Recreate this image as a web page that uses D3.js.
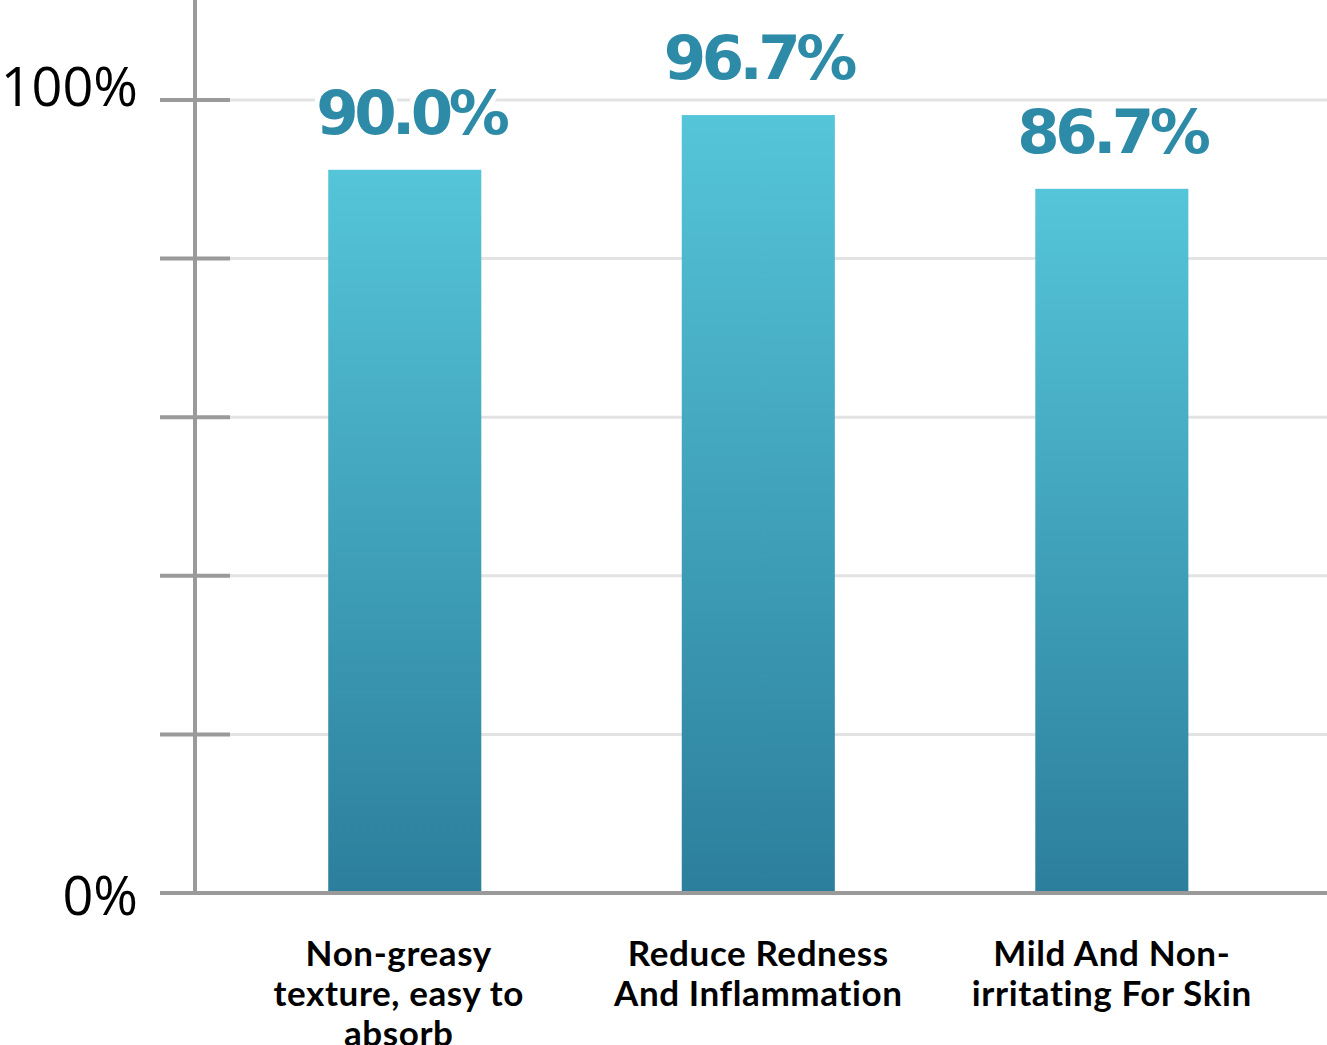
<!DOCTYPE html>
<html><head><meta charset="utf-8">
<script src="https://cdn.jsdelivr.net/npm/d3@7"></script>
<style>html,body{margin:0;padding:0;background:#fff;}svg{display:block;}</style>
</head><body>
<svg id="chart" width="1327" height="1045"></svg>
<script>
const categories = [
  ["Non-greasy", "texture, easy to", "absorb"],
  ["Reduce Redness", "And Inflammation"],
  ["Mild And Non-", "irritating For Skin"]
];
const barValues = [91.2, 98.1, 88.8];
const valueLabels = ["90.0%", "96.7%", "86.7%"];
const tickValues = [0, 20, 40, 60, 80, 100];
const tickLabels = {0: "0%", 100: "100%"};

const svg = d3.select("#chart");
const y = d3.scaleLinear().domain([0, 100]).range([893, 100]);
const keys = categories.map((c, i) => i);
const x = d3.scaleBand().domain(keys).range([230, 1327])
  .paddingInner(0.567).paddingOuter(0.335).align(0.4147);

const defs = svg.append("defs");
const grad = defs.append("linearGradient").attr("id", "barGrad")
  .attr("x1", 0).attr("y1", 0).attr("x2", 0).attr("y2", 1);
grad.append("stop").attr("offset", "0%").attr("stop-color", "#55c5d9");
grad.append("stop").attr("offset", "100%").attr("stop-color", "#2c7f9c");

// gridlines
svg.append("g").selectAll("line").data(tickValues.filter(v => v > 0)).join("line")
  .attr("x1", 230).attr("x2", 1327)
  .attr("y1", d => y(d)).attr("y2", d => y(d))
  .attr("stroke", "#e3e3e3").attr("stroke-width", 3);

// bars
svg.append("g").selectAll("rect").data(barValues).join("rect")
  .attr("x", (d, i) => x(i)).attr("width", x.bandwidth())
  .attr("y", d => y(d)).attr("height", d => y(0) - y(d))
  .attr("fill", "url(#barGrad)");

// y axis line
svg.append("line").attr("x1", 195).attr("x2", 195).attr("y1", 0).attr("y2", y(0))
  .attr("stroke", "#9a9a9a").attr("stroke-width", 4);
// x axis line
svg.append("line").attr("x1", 160).attr("x2", 1327).attr("y1", y(0)).attr("y2", y(0))
  .attr("stroke", "#9a9a9a").attr("stroke-width", 4);
// ticks
svg.append("g").selectAll("line").data(tickValues).join("line")
  .attr("x1", 160).attr("x2", 230)
  .attr("y1", d => y(d)).attr("y2", d => y(d))
  .attr("stroke", "#9a9a9a").attr("stroke-width", 4);

// tick labels
svg.append("g").selectAll("text").data(tickValues.filter(v => tickLabels[v])).join("text")
  .attr("x", 138).attr("y", d => y(d) + (d === 100 ? 6 : 22))
  .attr("text-anchor", "end")
  .attr("font-family", "'Open Sans', sans-serif").attr("font-size", 54)
  .attr("fill", "#000").text(d => tickLabels[d]);

// value labels
svg.append("g").selectAll("text").data(barValues).join("text")
  .attr("x", (d, i) => x(i) + x.bandwidth() / 2 + (i === 0 ? 6 : 0))
  .attr("y", d => y(d) - 36)
  .attr("text-anchor", "middle")
  .attr("font-family", "'DejaVu Sans', sans-serif").attr("font-weight", "bold")
  .attr("font-size", 61).attr("letter-spacing", -4.5)
  .attr("fill", "#2e8ba8").attr("stroke", "#fff").attr("stroke-width", 10)
  .attr("stroke-linejoin", "round").attr("paint-order", "stroke")
  .text((d, i) => valueLabels[i]);

// category labels
const cat = svg.append("g").selectAll("text").data(categories).join("text")
  .attr("x", (d, i) => x(i) + x.bandwidth() / 2 - (i === 0 ? 6 : 0))
  .attr("y", 966)
  .attr("text-anchor", "middle")
  .attr("font-family", "Lato, sans-serif").attr("font-weight", "bold")
  .attr("font-size", 35).attr("letter-spacing", 0.6).attr("fill", "#000");
cat.selectAll("tspan").data(d => d).join("tspan")
  .attr("x", function() { return d3.select(this.parentNode).attr("x"); })
  .attr("dy", (d, j) => j === 0 ? 0 : 40)
  .text(d => d);
</script>
</body></html>
